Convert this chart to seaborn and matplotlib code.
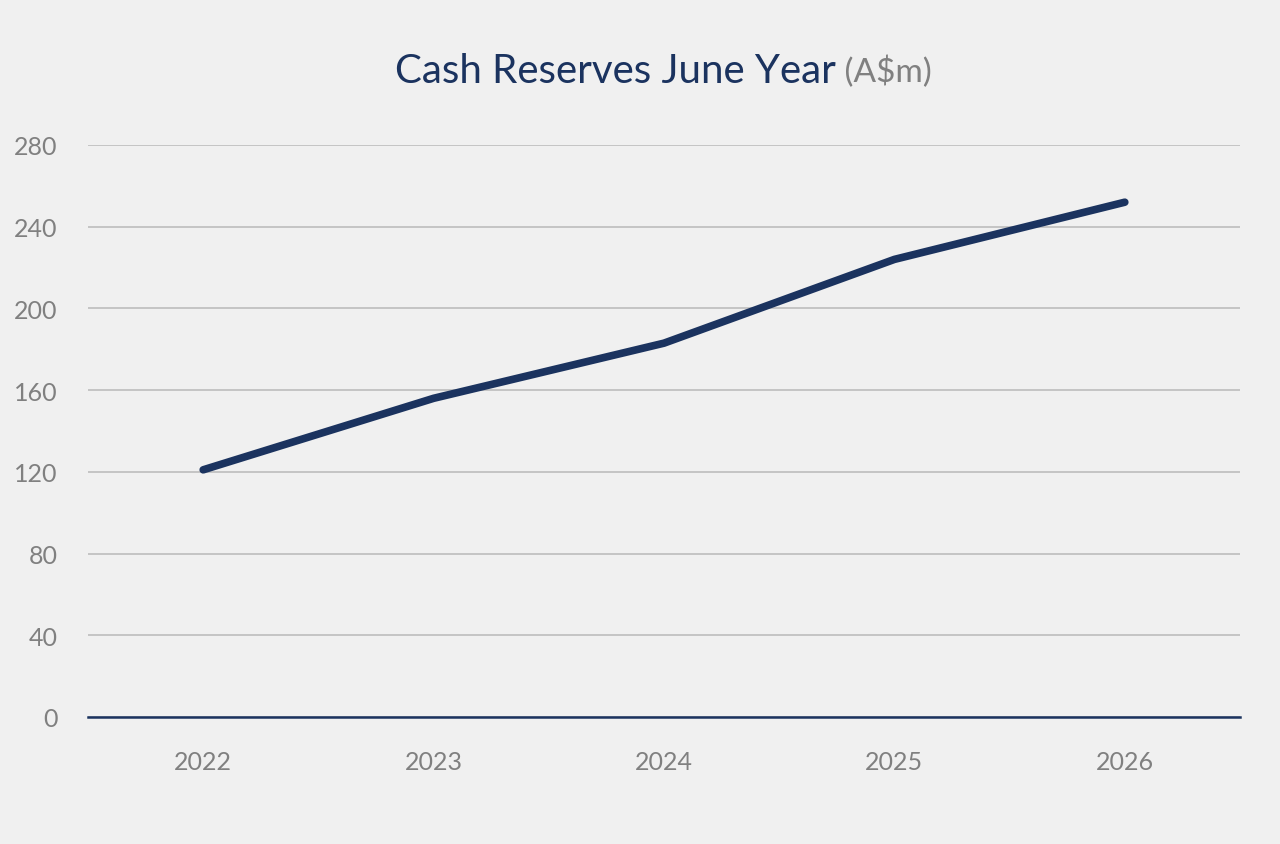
import seaborn as sns
import matplotlib.pyplot as plt
import pandas as pd

years = ["2022", "2023", "2024", "2025", "2026"]
cash = [121, 156, 183, 224, 252]
yticks = [0, 40, 80, 120, 160, 200, 240, 280]

df = pd.DataFrame({"year": years, "cash": cash})

sns.set_theme(style="white")
plt.rcParams['font.family'] = ['Lato', 'DejaVu Sans']

bg = "#f0f0f0"
navy = "#1b335f"
grey = "#808080"

fig = plt.figure(figsize=(12.8, 8.45), dpi=100, facecolor=bg)
ax = fig.add_axes([88/1280, 1-718/845, (1240-88)/1280, (718-146)/845])
ax.set_facecolor(bg)

sns.lineplot(data=df, x="year", y="cash", color=navy, linewidth=5.5, ax=ax,
             solid_capstyle="round", sort=False)

ax.set_xlim(-0.5, len(years) - 0.5)
ax.set_ylim(0, 280)
ax.set_yticks(yticks)
ax.yaxis.grid(True, color="#c4c4c4", linewidth=1.4)
ax.set_axisbelow(True)
for s in ["top", "right", "left"]:
    ax.spines[s].set_visible(False)
ax.spines["bottom"].set_color(navy)
ax.spines["bottom"].set_linewidth(1.8)
ax.tick_params(axis="both", length=0, labelsize=18, labelcolor=grey)
ax.tick_params(axis="y", pad=22)
ax.tick_params(axis="x", pad=24)
ax.set_xlabel("")
ax.set_ylabel("")

# title in two parts, centred together
t1 = fig.text(0, 0.915, "Cash Reserves June Year", color=navy, fontsize=29,
              ha="left", va="center")
t2 = fig.text(0, 0.915, " (A$m)", color=grey, fontsize=24, ha="left", va="center")
r = fig.canvas.get_renderer()
w1 = t1.get_window_extent(r).width / fig.bbox.width
w2 = t2.get_window_extent(r).width / fig.bbox.width
x0 = 663/1280 - (w1 + w2) / 2
t1.set_x(x0)
t2.set_x(x0 + w1)

fig.savefig("out.png", dpi=100, facecolor=bg)
